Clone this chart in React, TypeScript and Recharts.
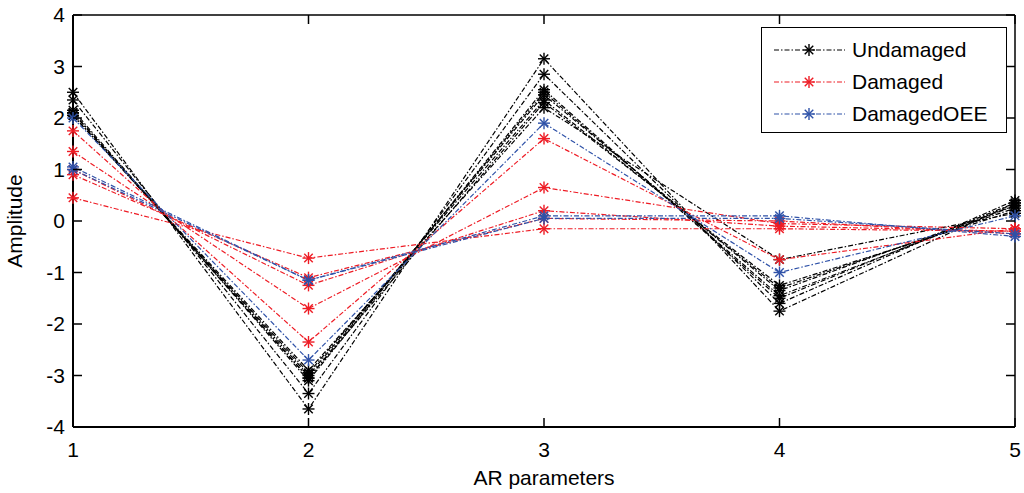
import React from 'react';
import { LineChart, Line, XAxis, YAxis, Legend } from 'recharts';

// AR parameter index on the x axis
const arParams = [1, 2, 3, 4, 5];
const amplitudeTicks = [-4, -3, -2, -1, 0, 1, 2, 3, 4];

// one row per measurement, values at AR parameters 1..5
const undamaged = [
  [2.5, -3.65, 3.15, -1.75, 0.35],
  [2.35, -3.35, 2.85, -1.6, 0.4],
  [2.15, -3.1, 2.55, -1.5, 0.35],
  [2.1, -3.05, 2.5, -1.45, 0.3],
  [2.1, -3.0, 2.45, -1.35, 0.3],
  [2.05, -2.95, 2.35, -1.3, 0.25],
  [2.1, -3.05, 2.3, -1.25, 0.2],
  [2.05, -2.9, 2.2, -0.75, 0.15],
];

const damaged = [
  [1.75, -2.35, 1.6, -0.75, -0.15],
  [1.35, -1.7, 0.65, -0.05, -0.15],
  [1.0, -1.25, 0.2, -0.1, -0.2],
  [0.9, -1.1, 0.05, 0.0, -0.25],
  [0.45, -0.72, -0.15, -0.15, -0.2],
];

const damagedOEE = [
  [2.0, -2.7, 1.9, -1.0, 0.1],
  [1.05, -1.15, 0.1, 0.1, -0.3],
  [1.0, -1.15, 0.05, 0.05, -0.25],
];

const groups = [
  { name: 'Undamaged', prefix: 'u', color: '#000000', runs: undamaged },
  { name: 'Damaged', prefix: 'd', color: '#ee1c25', runs: damaged },
  { name: 'DamagedOEE', prefix: 'o', color: '#2f52a8', runs: damagedOEE },
];

const data = arParams.map((x, i) => {
  const row: { [key: string]: number } = { x };
  groups.forEach((g) => g.runs.forEach((run, j) => { row[`${g.prefix}${j}`] = run[i]; }));
  return row;
});

const FONT = '"Liberation Sans", Arial, Helvetica, sans-serif';
const DASH = '5 2 1.5 2';

const makeStar = (color: string) => (props: any) => {
  const { cx, cy, index } = props;
  if (cx == null || cy == null) return <g key={index} />;
  const r = 6;
  const d = r * 0.7071;
  return (
    <g key={index} stroke={color} strokeWidth={1.4}>
      <line x1={cx - r} y1={cy} x2={cx + r} y2={cy} />
      <line x1={cx} y1={cy - r} x2={cx} y2={cy + r} />
      <line x1={cx - d} y1={cy - d} x2={cx + d} y2={cy + d} />
      <line x1={cx - d} y1={cy + d} x2={cx + d} y2={cy - d} />
    </g>
  );
};

const LeftTick = (props: any) => {
  const { x, y, payload } = props;
  return (
    <g>
      <line x1={x + 8} y1={y} x2={x + 17} y2={y} stroke="#000" strokeWidth={1.5} />
      <text x={x} y={y} dy={7} textAnchor="end" fontSize={21} fontFamily={FONT} fill="#000">
        {payload.value}
      </text>
    </g>
  );
};

const RightTick = (props: any) => {
  const { x, y } = props;
  return <line x1={x - 8} y1={y} x2={x - 17} y2={y} stroke="#000" strokeWidth={1.5} />;
};

const BottomTick = (props: any) => {
  const { x, y, payload } = props;
  return (
    <g>
      <line x1={x} y1={y - 10} x2={x} y2={y - 19} stroke="#000" strokeWidth={1.5} />
      <text x={x} y={y} dy={20} textAnchor="middle" fontSize={21} fontFamily={FONT} fill="#000">
        {payload.value}
      </text>
    </g>
  );
};

const TopTick = (props: any) => {
  const { x, y } = props;
  return <line x1={x} y1={y} x2={x} y2={y + 9} stroke="#000" strokeWidth={1.5} />;
};

const renderLegend = () => (
  <div
    style={{
      width: 246,
      height: 106,
      boxSizing: 'border-box',
      border: '1.5px solid #000',
      background: '#fff',
      paddingTop: 6,
      fontFamily: FONT,
      fontSize: 21,
    }}
  >
    {groups.map((g) => (
      <div key={g.name} style={{ height: 32, display: 'flex', alignItems: 'center' }}>
        <svg width={88} height={20} style={{ flex: 'none' }}>
          <line x1={12} y1={10} x2={83} y2={10} stroke={g.color} strokeWidth={1.2} strokeDasharray={DASH} />
          {makeStar(g.color)({ cx: 47, cy: 10, index: 0 })}
        </svg>
        <span style={{ marginLeft: 2, color: '#000' }}>{g.name}</span>
      </div>
    ))}
  </div>
);

export default function App() {
  return (
    <div style={{ position: 'absolute', left: 0, top: 0, background: '#fff' }}>
      <LineChart width={1024} height={493} data={data} margin={{ top: 14, right: 8, bottom: 36, left: 13 }}>
        <XAxis
          dataKey="x"
          type="number"
          domain={[1, 5]}
          ticks={arParams}
          height={30}
          tickSize={0}
          tickMargin={10}
          tick={<BottomTick />}
          axisLine={{ stroke: '#000', strokeWidth: 2 }}
          label={{
            content: (p: any) => (
              <text
                x={p.viewBox.x + p.viewBox.width / 2}
                y={p.viewBox.y + 58}
                textAnchor="middle"
                fontSize={21}
                fontFamily={FONT}
                fill="#000"
              >
                AR parameters
              </text>
            ),
          }}
        />
        <XAxis
          xAxisId="top"
          orientation="top"
          dataKey="x"
          type="number"
          domain={[1, 5]}
          ticks={arParams}
          height={1}
          tickSize={0}
          tickMargin={0}
          tick={<TopTick />}
          axisLine={{ stroke: '#000', strokeWidth: 1.5 }}
        />
        <YAxis
          type="number"
          domain={[-4, 4]}
          ticks={amplitudeTicks}
          width={60}
          tickSize={0}
          tickMargin={8}
          tick={<LeftTick />}
          axisLine={{ stroke: '#000', strokeWidth: 2 }}
          label={{
            content: (p: any) => {
              const cx = p.viewBox.x + 9;
              const cy = p.viewBox.y + p.viewBox.height / 2;
              return (
                <text
                  x={cx}
                  y={cy}
                  transform={`rotate(-90 ${cx} ${cy})`}
                  textAnchor="middle"
                  fontSize={21}
                  fontFamily={FONT}
                  fill="#000"
                >
                  Amplitude
                </text>
              );
            },
          }}
        />
        <YAxis
          yAxisId="right"
          orientation="right"
          type="number"
          domain={[-4, 4]}
          ticks={amplitudeTicks}
          width={1}
          tickSize={0}
          tickMargin={8}
          tick={<RightTick />}
          axisLine={{ stroke: '#000', strokeWidth: 1.5 }}
        />
        <Legend
          verticalAlign="middle"
          align="center"
          layout="horizontal"
          wrapperStyle={{ top: 27, left: 761, width: 246 }}
          content={renderLegend}
        />
        {/* hidden series so the top and right frame axes get drawn */}
        <Line
          xAxisId="top"
          yAxisId="right"
          dataKey="u0"
          stroke="none"
          dot={false}
          activeDot={false}
          legendType="none"
          isAnimationActive={false}
        />
        {groups.map((g) =>
          g.runs.map((_, j) => (
            <Line
              key={`${g.prefix}${j}`}
              dataKey={`${g.prefix}${j}`}
              name={g.name}
              type="linear"
              stroke={g.color}
              strokeWidth={1.2}
              strokeDasharray={DASH}
              dot={makeStar(g.color)}
              activeDot={false}
              legendType="none"
              isAnimationActive={false}
            />
          ))
        )}
      </LineChart>
    </div>
  );
}
